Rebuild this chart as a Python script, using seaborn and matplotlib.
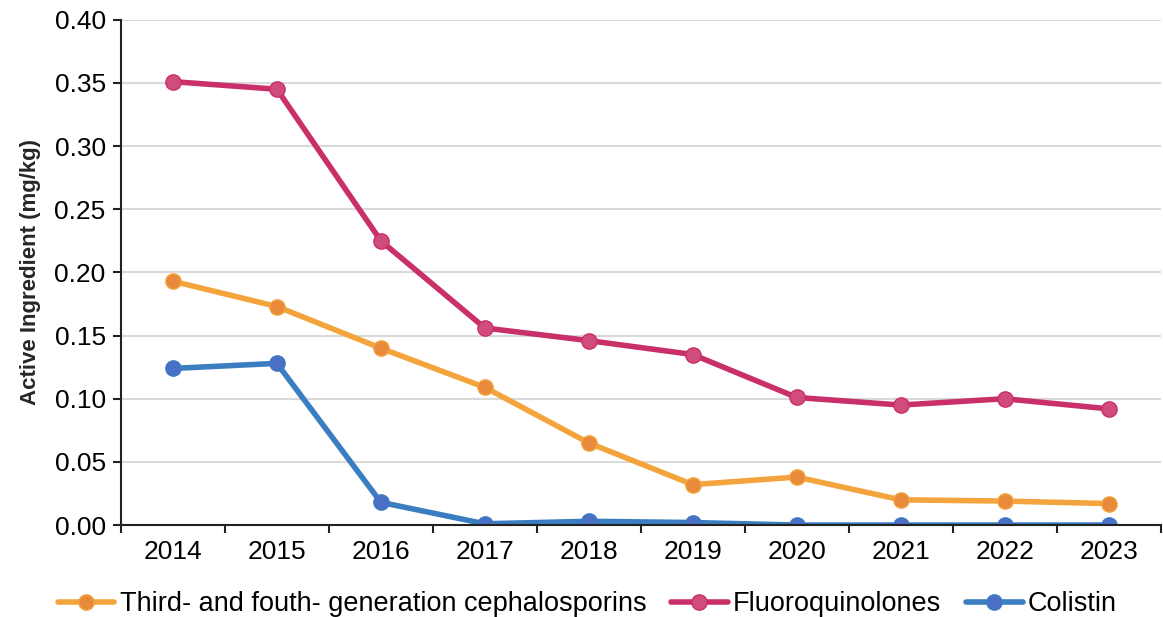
import matplotlib
matplotlib.use("Agg")
import matplotlib.pyplot as plt
import seaborn as sns
import numpy as np
import pandas as pd
from matplotlib.lines import Line2D

years = [2014, 2015, 2016, 2017, 2018, 2019, 2020, 2021, 2022, 2023]
cephalosporins = [0.193, 0.173, 0.140, 0.109, 0.065, 0.032, 0.038, 0.020, 0.019, 0.017]
fluoroquinolones = [0.351, 0.345, 0.225, 0.156, 0.146, 0.135, 0.101, 0.095, 0.100, 0.092]
colistin = [0.124, 0.128, 0.018, 0.001, 0.003, 0.002, 0.000, 0.000, 0.000, 0.000]
series_names = ["Third- and fouth- generation cephalosporins", "Fluoroquinolones", "Colistin"]

line_colors = ["#F4A43C", "#C92F68", "#3A7DC0"]
face_colors = ["#E8893C", "#CF4C7C", "#4A6FC6"]

df = pd.DataFrame({
    "pos": list(range(len(years))) * 3,
    "value": cephalosporins + fluoroquinolones + colistin,
    "series": [n for n in series_names for _ in years],
})

sns.set_style("white")
plt.rcParams["font.family"] = ["Liberation Sans", "DejaVu Sans"]
plt.rcParams["text.color"] = "black"
plt.rcParams["xtick.color"] = "#222222"
plt.rcParams["ytick.color"] = "#222222"
plt.rcParams["xtick.labelcolor"] = "black"
plt.rcParams["ytick.labelcolor"] = "black"

fig = plt.figure(figsize=(11.63, 6.17), dpi=100)
ax = fig.add_axes([0.104, 0.149, 0.894, 0.819])

sns.lineplot(data=df, x="pos", y="value", hue="series", hue_order=series_names,
             palette=dict(zip(series_names, line_colors)), marker="o", markersize=11,
             linewidth=4, legend=False, ax=ax)

for line, fc, lc in zip(ax.lines, face_colors, line_colors):
    line.set_markerfacecolor(fc)
    line.set_markeredgecolor(lc)
    line.set_markeredgewidth(1)

ax.set_xlim(-0.5, len(years) - 0.5)
ax.set_ylim(0, 0.40)
ax.set_yticks(np.arange(0, 0.401, 0.05))
ax.set_yticklabels([f"{v:.2f}" for v in np.arange(0, 0.401, 0.05)], fontsize=19)
ax.set_xticks(range(len(years)))
ax.set_xticklabels([str(y) for y in years], fontsize=19)
ax.set_xticks(np.arange(-0.5, len(years), 1.0), minor=True)
ax.tick_params(axis="x", which="major", bottom=True, length=0, pad=11)
ax.tick_params(axis="x", which="minor", bottom=True, length=6, width=1.5)
ax.tick_params(axis="y", left=True, length=6, width=1.5, pad=5)

ax.yaxis.grid(True, color="#D9D9D9", linewidth=1.5)
ax.xaxis.grid(False)
ax.set_axisbelow(True)
for s in ["top", "right"]:
    ax.spines[s].set_visible(False)
for s in ["left", "bottom"]:
    ax.spines[s].set_color("#222222")
    ax.spines[s].set_linewidth(1.5)

ax.set_xlabel("")
ax.set_ylabel("Active Ingredient (mg/kg)", fontsize=16, fontweight="bold", labelpad=10)

handles = [Line2D([0], [0], color=lc, linewidth=4, marker="o", markersize=11,
                  markerfacecolor=fc, markeredgecolor=lc) for lc, fc in zip(line_colors, face_colors)]
fig.legend(handles, series_names, loc="lower center", bbox_to_anchor=(0.505, -0.04), ncol=3,
           frameon=False, fontsize=19.5, handlelength=2.1, columnspacing=0.9, handletextpad=0.2)

fig.savefig("out.png", dpi=100)
